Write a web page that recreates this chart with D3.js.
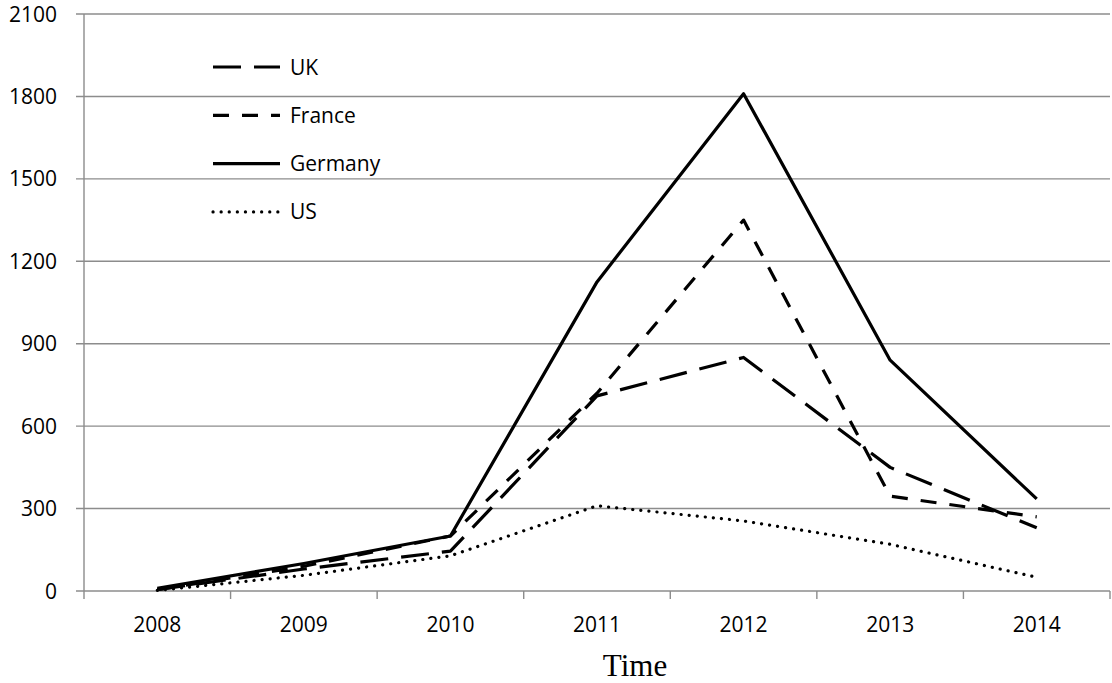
<!DOCTYPE html>
<html>
<head>
<meta charset="utf-8">
<script src="https://cdn.jsdelivr.net/npm/d3@7"></script>
<style>
  body { margin: 0; background: #fff; }
  text { font-family: "Open Sans", Lato, sans-serif; }
</style>
</head>
<body>
<svg id="chart"></svg>
<script>
// Chart size
const width = 1112;
const height = 683;

// Data
const years = ["2008", "2009", "2010", "2011", "2012", "2013", "2014"];
const uk = [5, 80, 145, 710, 850, 450, 230];
const france = [5, 90, 200, 720, 1350, 345, 270];
const germany = [10, 100, 200, 1125, 1810, 840, 335];
const us = [2, 57, 128, 310, 255, 170, 50];
const yTicks = [0, 300, 600, 900, 1200, 1500, 1800, 2100];

const series = [
  { name: "UK", values: uk, dash: "28,13", cap: "butt" },
  { name: "France", values: france, dash: "16,13", cap: "butt" },
  { name: "Germany", values: germany, dash: null, cap: "butt" },
  { name: "US", values: us, dash: "0.1,8", cap: "round" }
];

const plotLeft = 84, plotRight = 1110, plotTop = 14, plotBottom = 591;

const svg = d3.select("#chart").attr("width", width).attr("height", height);

// Scales
const xBand = d3.scaleBand().domain(years).range([plotLeft, plotRight]);
const x = (d) => xBand(d) + xBand.bandwidth() / 2;
const y = d3.scaleLinear().domain([0, 2100]).range([plotBottom, plotTop]);

// Gridlines
svg.append("g")
  .selectAll("line")
  .data(yTicks)
  .enter()
  .append("line")
  .attr("x1", plotLeft - 8)
  .attr("x2", plotRight)
  .attr("y1", (d) => y(d))
  .attr("y2", (d) => y(d))
  .attr("stroke", "#8c8c8c")
  .attr("stroke-width", 1.4);

// Y axis line
svg.append("line")
  .attr("x1", plotLeft).attr("x2", plotLeft)
  .attr("y1", plotTop).attr("y2", plotBottom)
  .attr("stroke", "#8c8c8c")
  .attr("stroke-width", 1.4);

// Y labels
svg.append("g")
  .selectAll("text")
  .data(yTicks)
  .enter()
  .append("text")
  .attr("x", 57)
  .attr("y", (d) => y(d))
  .attr("dy", "0.36em")
  .attr("text-anchor", "end")
  .attr("font-size", 21)
  .text((d) => d);

// X tick marks at band edges
const edges = years.map((d) => xBand(d)).concat([plotRight]);
svg.append("g")
  .selectAll("line")
  .data(edges)
  .enter()
  .append("line")
  .attr("x1", (d) => d).attr("x2", (d) => d)
  .attr("y1", plotBottom).attr("y2", plotBottom + 8)
  .attr("stroke", "#8c8c8c")
  .attr("stroke-width", 1.4);

// X labels
svg.append("g")
  .selectAll("text")
  .data(years)
  .enter()
  .append("text")
  .attr("x", (d) => x(d))
  .attr("y", 632)
  .attr("text-anchor", "middle")
  .attr("font-size", 21)
  .text((d) => d);

// Axis title
svg.append("text")
  .attr("x", 635)
  .attr("y", 676)
  .attr("text-anchor", "middle")
  .attr("font-size", 31)
  .style("font-family", "'Liberation Serif', 'DejaVu Serif', serif")
  .text("Time");

// Lines
const line = d3.line()
  .x((d, i) => x(years[i]))
  .y((d) => y(d));

svg.append("g")
  .selectAll("path")
  .data(series)
  .enter()
  .append("path")
  .attr("d", (d) => line(d.values))
  .attr("fill", "none")
  .attr("stroke", "#000")
  .attr("stroke-width", 3.2)
  .attr("stroke-linecap", (d) => d.cap)
  .attr("stroke-linejoin", "round")
  .attr("stroke-dasharray", (d) => d.dash);

// Legend
const legend = svg.append("g")
  .selectAll("g")
  .data(series)
  .enter()
  .append("g")
  .attr("transform", (d, i) => "translate(213," + (67 + i * 48.3) + ")");

legend.append("line")
  .attr("x1", 0).attr("x2", 67)
  .attr("stroke", "#000")
  .attr("stroke-width", 3.2)
  .attr("stroke-linecap", (d) => d.cap)
  .attr("stroke-dasharray", (d) => d.dash);

legend.append("text")
  .attr("x", 77)
  .attr("dy", "0.36em")
  .attr("font-size", 21)
  .text((d) => d.name);
</script>
</body>
</html>
